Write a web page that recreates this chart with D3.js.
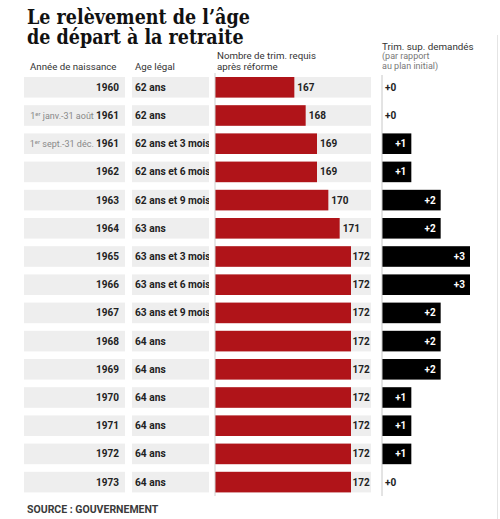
<!DOCTYPE html>
<html><head><meta charset="utf-8">
<script src="https://cdn.jsdelivr.net/npm/d3@7"></script>
<style>
html,body{margin:0;padding:0;background:#fff;}
svg{display:block;}
text{font-family:Roboto,"Liberation Sans",sans-serif;}
</style></head>
<body>
<svg id="chart" width="500" height="519"></svg>
<script>
const titleLines = ["Le relèvement de l’âge", "de départ à la retraite"];
const headers = ["Année de naissance", "Age légal"];
const barHeader = ["Nombre de trim. requis", "après réforme"];
const extraHeader = ["Trim. sup. demandés", "(par rapport", "au plan initial)"];
const source = "SOURCE : GOUVERNEMENT";

const years = ["1960","1961","1961","1962","1963","1964","1965","1966","1967","1968","1969","1970","1971","1972","1973"];
const yearPrefix = ["","1er janv.-31 août","1er sept.-31 déc.","","","","","","","","","","","",""];
const ages = ["62 ans","62 ans","62 ans et 3 mois","62 ans et 6 mois","62 ans et 9 mois","63 ans","63 ans et 3 mois","63 ans et 6 mois","63 ans et 9 mois","64 ans","64 ans","64 ans","64 ans","64 ans","64 ans"];
const trimRequired = [167,168,169,169,170,171,172,172,172,172,172,172,172,172,172];
const trimExtra = [0,0,1,1,2,2,3,3,2,2,2,1,1,1,0];

const svg = d3.select("#chart");
const rows = d3.range(years.length);

const y = d3.scaleBand().domain(rows).range([73.2, 496.2]).paddingInner(0.27).paddingOuter(0.135);
const x = d3.scaleLinear().domain([160, 172]).range([215, 351]);
const x2 = d3.scaleLinear().domain([0, 3]).range([382, 470]);

// right border line
svg.append("line").attr("x1",497.5).attr("x2",497.5).attr("y1",35).attr("y2",519)
  .attr("stroke","#e4e4e4").attr("stroke-width",1);

// Title (horizontally condensed to match the reference width)
const title = svg.append("g");
titleLines.forEach((t,i)=>{
  title.append("text").attr("x",0).attr("y",24+i*20)
    .style("font-family","'DejaVu Serif',serif")
    .style("font-weight","bold").style("font-size","20px").attr("fill","#111").text(t);
});
const w0 = title.select("text").node().getComputedTextLength();
title.attr("transform",`translate(27,0) scale(${223/w0},1)`);

// Headers
svg.append("text").attr("x",30).attr("y",70).attr("font-size",9.7).attr("fill","#333").text(headers[0]);
svg.append("text").attr("x",135).attr("y",70).attr("font-size",9.7).attr("fill","#333").text(headers[1]);
barHeader.forEach((t,i)=>svg.append("text").attr("x",217).attr("y",59+i*10.5).attr("font-size",9.7).attr("fill","#333").text(t));
extraHeader.forEach((t,i)=>svg.append("text").attr("x",382).attr("y",50+i*9.3).attr("font-size",i===0?9.8:9)
  .attr("fill", i===0?"#333":"#777").text(t));

// row cells
const g = svg.append("g");
g.selectAll("rect.yc").data(rows).join("rect").attr("class","yc")
  .attr("x",24).attr("width",101).attr("y",d=>y(d)).attr("height",y.bandwidth()).attr("fill","#eeeeee");
g.selectAll("rect.ac").data(rows).join("rect").attr("class","ac")
  .attr("x",132).attr("width",77).attr("y",d=>y(d)).attr("height",y.bandwidth()).attr("fill","#eeeeee");
g.selectAll("rect.bc").data(rows).join("rect").attr("class","bc")
  .attr("x",x(160)).attr("width",371-x(160)).attr("y",d=>y(d)).attr("height",y.bandwidth()).attr("fill","#eeeeee");

// year labels
const yt = g.selectAll("text.yl").data(rows).join("text").attr("class","yl")
  .attr("x",119).attr("y",d=>y(d)+y.bandwidth()/2).attr("dy","0.35em")
  .attr("text-anchor","end").attr("font-size",10).attr("fill","#222");
yt.each(function(d){
  const t = d3.select(this);
  const p = yearPrefix[d];
  if(p){
    const m = p.match(/^(\d+)(er)(.*)$/);
    t.append("tspan").attr("fill","#888").attr("font-size",9).text(m[1]);
    t.append("tspan").attr("fill","#888").attr("font-size",6).attr("dy",-3).text(m[2]);
    t.append("tspan").attr("fill","#888").attr("font-size",9).attr("dy",3).text(m[3]+" ");
  }
  t.append("tspan").attr("font-weight","bold").text(years[d]);
});

// age labels with clipping
svg.append("clipPath").attr("id","ageclip").append("rect").attr("x",132).attr("y",0).attr("width",77).attr("height",519);
g.append("g").attr("clip-path","url(#ageclip)").selectAll("text").data(rows).join("text")
  .attr("x",135).attr("y",d=>y(d)+y.bandwidth()/2).attr("dy","0.35em")
  .attr("font-size",10.2).attr("font-weight","bold").attr("fill","#222").text(d=>ages[d]);

// red bars
g.selectAll("rect.rb").data(rows).join("rect").attr("class","rb")
  .attr("x",x(160)).attr("y",d=>y(d)).attr("height",y.bandwidth())
  .attr("width",d=>x(trimRequired[d])-x(160)).attr("fill","#b01419");
g.selectAll("text.rv").data(rows).join("text").attr("class","rv")
  .attr("x",d=>x(trimRequired[d])+ (trimRequired[d]>=172?1.5:3)).attr("y",d=>y(d)+y.bandwidth()/2).attr("dy","0.35em")
  .attr("font-size",10).attr("font-weight","bold").attr("fill","#222").text(d=>trimRequired[d]);

// axis lines
svg.append("line").attr("x1",x(160)).attr("x2",x(160)).attr("y1",y(0)-4).attr("y2",496)
  .attr("stroke","#d0d0d0").attr("stroke-width",1);
svg.append("line").attr("x1",x2(0)).attr("x2",x2(0)).attr("y1",75).attr("y2",496)
  .attr("stroke","#c8c8c8").attr("stroke-width",1);

// black bars
g.selectAll("rect.kb").data(rows).join("rect").attr("class","kb")
  .attr("x",x2(0)).attr("y",d=>y(d)).attr("height",y.bandwidth())
  .attr("width",d=>x2(trimExtra[d])-x2(0)).attr("fill","#000");
g.selectAll("text.kv").data(rows).join("text").attr("class","kv")
  .attr("x",d=>trimExtra[d]>0 ? x2(trimExtra[d])-5 : x2(0)+3)
  .attr("text-anchor",d=>trimExtra[d]>0?"end":"start")
  .attr("y",d=>y(d)+y.bandwidth()/2).attr("dy","0.35em")
  .attr("font-size",10).attr("font-weight","bold").attr("fill",d=>trimExtra[d]>0?"#fff":"#222")
  .text(d=>"+"+trimExtra[d]);

// source
svg.append("text").attr("x",27).attr("y",513).attr("font-size",10.5).attr("font-weight","bold")
  .attr("fill","#3a3a3a").text(source);
</script>
</body></html>
